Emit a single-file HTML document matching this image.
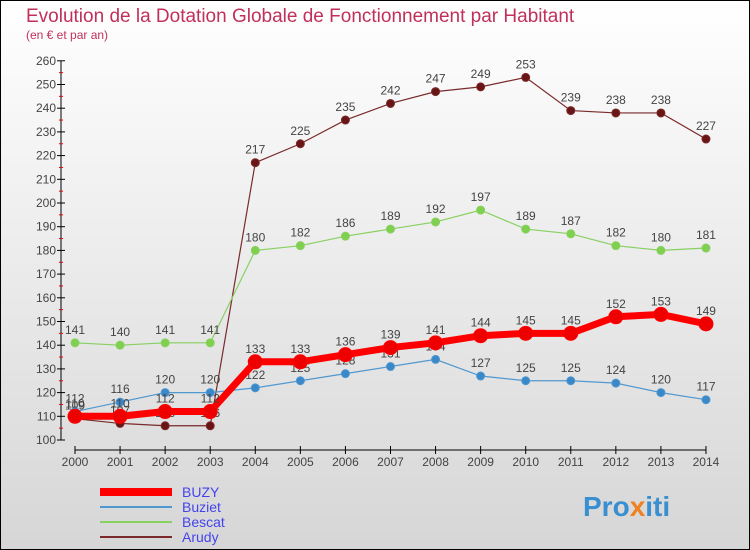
<!DOCTYPE html>
<html><head><meta charset="utf-8"><style>
body{margin:0}
svg{display:block;font-family:"Liberation Sans",sans-serif}
</style></head><body>
<svg width="750" height="550" viewBox="0 0 750 550" xmlns="http://www.w3.org/2000/svg">
<defs><linearGradient id="bg" x1="0" y1="0" x2="0" y2="1"><stop offset="0" stop-color="#ffffff"/><stop offset="1" stop-color="#d6d6d6"/></linearGradient></defs>
<rect x="0.5" y="0.5" width="749" height="549" fill="url(#bg)" stroke="#000"/>
<text x="26" y="22" font-size="19" fill="#c0305a">Evolution de la Dotation Globale de Fonctionnement par Habitant</text>
<text x="26" y="39" font-size="12" fill="#c0305a">(en € et par an)</text>
<g id="axes"></g>
<g id="series"></g>
<g id="legend"></g>
<text x="583" y="516" font-size="28" font-weight="bold" fill="#3a8fd0">Pro<tspan fill="#f08020">x</tspan>iti</text>
</svg>
<script>
const years=[2000,2001,2002,2003,2004,2005,2006,2007,2008,2009,2010,2011,2012,2013,2014];
const yTicks=[100,110,120,130,140,150,160,170,180,190,200,210,220,230,240,250,260];
const buzy=[110,110,112,112,133,133,136,139,141,144,145,145,152,153,149];
const buziet=[112,116,120,120,122,125,128,131,134,127,125,125,124,120,117];
const bescat=[141,140,141,141,180,182,186,189,192,197,189,187,182,180,181];
const arudy=[109,107,106,106,217,225,235,242,247,249,253,239,238,238,227];
const NS="http://www.w3.org/2000/svg";
const X=i=>75+i*45.07;
const Y=v=>440-(v-100)*2.37;
function mk(t,a,p){const e=document.createElementNS(NS,t);for(const k in a)e.setAttribute(k,a[k]);p.appendChild(e);return e;}
const ax=document.getElementById('axes');
const yl=mk('line',{x1:61,y1:Y(260),x2:61,y2:Y(100),stroke:'#000'},ax);


yTicks.forEach((v,i)=>{
  mk('line',{x1:57,y1:Y(v),x2:65,y2:Y(v),stroke:'#000'},ax);
  if(i<yTicks.length-1)mk('line',{x1:59,y1:Y(v+5),x2:63,y2:Y(v+5),stroke:'#e00'},ax);
  const t=mk('text',{x:56,y:Y(v)+4,'font-size':12,fill:'#444','text-anchor':'end'},ax);
  
  
  t.textContent=v;
});
const xl=mk('line',{x1:X(0),y1:450,x2:X(14),y2:450,stroke:'#000'},ax);


years.forEach((y,i)=>{
  mk('line',{x1:X(i),y1:446,x2:X(i),y2:454,stroke:'#000'},ax);
  const t=mk('text',{x:X(i),y:466,'font-size':12,fill:'#444','text-anchor':'middle'},ax);
  
  
  t.textContent=y;
});
const sg=document.getElementById('series');
function series(name,data,color,dot,w,r){
  const g=mk('g',{},sg);
  
  
  mk('polyline',{points:data.map((v,i)=>X(i)+','+Y(v)).join(' '),fill:'none',stroke:color,'stroke-width':w},g);
  data.forEach((v,i)=>{
    const c=mk('circle',{cx:X(i),cy:Y(v),r:r,fill:dot,stroke:color,'stroke-width':1},g);
    
    
    const t=mk('text',{x:X(i),y:Y(v)-9,'font-size':12,fill:'#444','text-anchor':'middle'},g);
    
    
    t.textContent=v;
  });
}
series('arudy',arudy,'#7a2a2a','#6a1515',1.2,4);
series('bescat',bescat,'#88d060','#80d050',1.2,4);
series('buziet',buziet,'#5098d0','#3a88c8',1.2,4);
series('buzy',buzy,'#ff0000','#ee0000',7,7);
const lg=document.getElementById('legend');
[['BUZY','#ff0000',8],['Buziet','#5098d0',2],['Bescat','#88d060',2],['Arudy','#7a2a2a',2]].forEach((e,i)=>{
  const g=mk('g',{},lg);
  
  
  const y=492+i*15;
  mk('line',{x1:100,y1:y,x2:172,y2:y,stroke:e[1],'stroke-width':e[2]},g);
  const t=mk('text',{x:182,y:y+5,'font-size':14,fill:'#4444ee'},g);
  t.textContent=e[0];
});
</script>
</body></html>
